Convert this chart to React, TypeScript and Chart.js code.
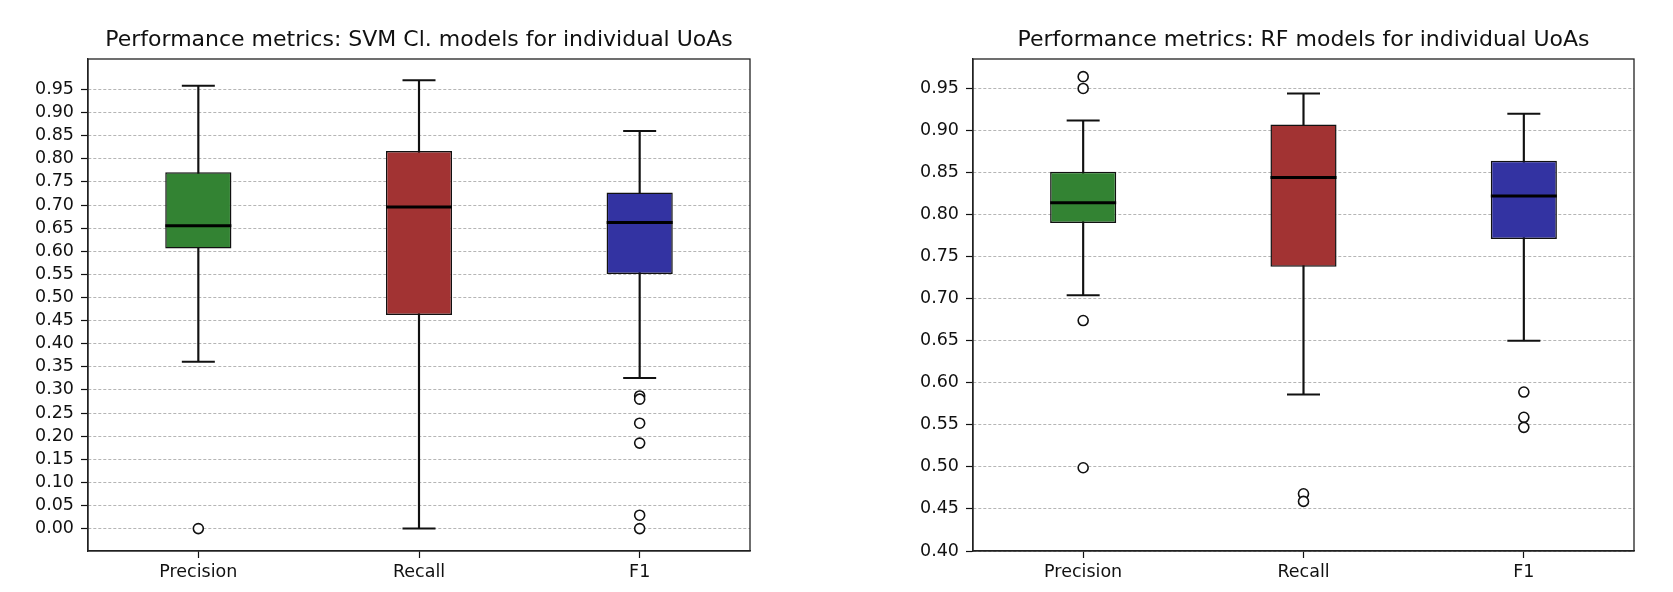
import React, { useEffect, useRef } from 'react';
import { Chart, registerables } from 'chart.js';

Chart.register(...registerables);

// ---------- shared ----------
const categories = ['Precision', 'Recall', 'F1'];
const boxColors = ['rgb(51,131,51)', 'rgb(162,51,51)', 'rgb(51,51,162)'];

// ---------- SVM chart (left) ----------
const svmTitle = 'Performance metrics: SVM Cl. models for individual UoAs';
const svmWhiskerLow = [0.361, 0.0, 0.326];
const svmQ1 = [0.606, 0.462, 0.551];
const svmMedian = [0.655, 0.696, 0.662];
const svmQ3 = [0.771, 0.817, 0.727];
const svmWhiskerHigh = [0.958, 0.97, 0.86];
const svmOutliers = [[0.0], [], [0.287, 0.28, 0.228, 0.185, 0.029, 0.0]];
const svmTicks = [0, 0.05, 0.1, 0.15, 0.2, 0.25, 0.3, 0.35, 0.4, 0.45, 0.5, 0.55, 0.6, 0.65, 0.7, 0.75, 0.8, 0.85, 0.9, 0.95];
const svmRange = [-0.0485, 1.016];

// ---------- RF chart (right) ----------
const rfTitle = 'Performance metrics: RF models for individual UoAs';
const rfWhiskerLow = [0.704, 0.586, 0.65];
const rfQ1 = [0.79, 0.738, 0.771];
const rfMedian = [0.814, 0.844, 0.822];
const rfQ3 = [0.851, 0.907, 0.864];
const rfWhiskerHigh = [0.912, 0.944, 0.92];
const rfOutliers = [[0.964, 0.95, 0.674, 0.499], [0.468, 0.459], [0.589, 0.559, 0.547]];
const rfTicks = [0.4, 0.45, 0.5, 0.55, 0.6, 0.65, 0.7, 0.75, 0.8, 0.85, 0.9, 0.95];
const rfRange = [0.4, 0.985];

const FONT = '"DejaVu Sans", "Liberation Sans", sans-serif';

interface BoxSpec {
  title: string;
  lo: number[];
  q1: number[];
  med: number[];
  q3: number[];
  hi: number[];
  outliers: number[][];
  ticks: number[];
  range: number[];
  canvasWidth: number;
  axisWidth: number;
  padRight: number;
}

function makeConfig(s: BoxSpec): any {
  const framePlugin = {
    id: 'frameAndTitle',
    afterDraw(chart: any) {
      const { ctx, chartArea } = chart;
      ctx.save();
      ctx.strokeStyle = '#222';
      ctx.lineWidth = 1.3;
      ctx.strokeRect(chartArea.left, chartArea.top, chartArea.right - chartArea.left, chartArea.bottom - chartArea.top);
      ctx.fillStyle = '#111';
      ctx.font = '22px ' + FONT;
      ctx.textAlign = 'center';
      ctx.textBaseline = 'alphabetic';
      ctx.fillText(s.title, (chartArea.left + chartArea.right) / 2, 46);
      ctx.restore();
    },
  };

  return {
    type: 'bar',
    data: {
      labels: categories,
      datasets: [
        {
          type: 'bar',
          label: 'box',
          data: categories.map((_, i) => [s.q1[i], s.q3[i]]),
          backgroundColor: boxColors,
          borderColor: '#111',
          borderWidth: 1.5,
          borderSkipped: false,
          barPercentage: 0.3,
          categoryPercentage: 1,
          grouped: false,
          order: 2,
        },
        {
          type: 'bar',
          label: 'whisker',
          data: categories.map((_, i) => [s.lo[i], s.hi[i]]),
          backgroundColor: '#111',
          borderWidth: 0,
          barThickness: 1.5,
          grouped: false,
          order: 3,
        },
        {
          type: 'line',
          label: 'caps',
          data: [
            ...categories.map((c, i) => ({ x: c, y: s.hi[i] })),
            ...categories.map((c, i) => ({ x: c, y: s.lo[i] })),
          ],
          showLine: false,
          pointStyle: 'line',
          pointRadius: 16.5,
          pointBorderColor: '#111',
          pointBorderWidth: 2,
          order: 1,
        },
        {
          type: 'line',
          label: 'median',
          data: categories.map((c, i) => ({ x: c, y: s.med[i] })),
          showLine: false,
          pointStyle: 'line',
          pointRadius: 33,
          pointBorderColor: '#000',
          pointBorderWidth: 3,
          order: 0,
        },
        {
          type: 'line',
          label: 'outliers',
          data: categories.flatMap((c, i) => s.outliers[i].map((v) => ({ x: c, y: v }))),
          showLine: false,
          pointStyle: 'circle',
          pointRadius: 5,
          pointBackgroundColor: '#fff',
          pointBorderColor: '#111',
          pointBorderWidth: 1.6,
          order: 0,
        },
      ],
    },
    options: {
      responsive: false,
      animation: false,
      events: [],
      layout: { padding: { top: 59, right: s.padRight, left: 0, bottom: 0 } },
      plugins: {
        legend: { display: false },
        tooltip: { enabled: false },
        title: { display: false },
      },
      scales: {
        x: {
          type: 'category',
          offset: true,
          grid: {
            display: true,
            drawOnChartArea: false,
            drawTicks: true,
            tickLength: 7,
            tickColor: '#111',
            tickWidth: 1.2,
            offset: false,
          },
          border: { display: true, color: '#222', width: 1.3 },
          ticks: { color: '#111', font: { family: FONT, size: 17.5 }, padding: 4 },
          afterFit: (sc: any) => {
            sc.height = 41;
          },
        },
        y: {
          type: 'linear',
          min: s.range[0],
          max: s.range[1],
          afterBuildTicks: (sc: any) => {
            sc.ticks = s.ticks.map((v) => ({ value: v }));
          },
          grid: {
            color: '#b5b5b5',
            lineWidth: 1,
            drawTicks: true,
            tickLength: 7,
            tickColor: '#111',
            tickWidth: 1.2,
          },
          border: { display: true, color: '#222', width: 1.3, dash: [3, 2] },
          ticks: {
            color: '#111',
            font: { family: FONT, size: 17.5 },
            padding: 7,
            callback: (v: any) => Number(v).toFixed(2),
          },
          afterFit: (sc: any) => {
            sc.width = s.axisWidth;
          },
        },
      },
    },
    plugins: [framePlugin],
  };
}

function BoxChart({ spec, left }: { spec: BoxSpec; left: number }) {
  const ref = useRef<HTMLCanvasElement | null>(null);
  useEffect(() => {
    if (!ref.current) return;
    const chart = new Chart(ref.current, makeConfig(spec));
    return () => chart.destroy();
  }, [spec]);
  return (
    <canvas
      ref={ref}
      width={spec.canvasWidth}
      height={592}
      style={{ position: 'absolute', left, top: 0, width: spec.canvasWidth, height: 592, display: 'block' }}
    />
  );
}

const svmSpec: BoxSpec = {
  title: svmTitle,
  lo: svmWhiskerLow,
  q1: svmQ1,
  med: svmMedian,
  q3: svmQ3,
  hi: svmWhiskerHigh,
  outliers: svmOutliers,
  ticks: svmTicks,
  range: svmRange,
  canvasWidth: 836,
  axisWidth: 88,
  padRight: 86,
};

const rfSpec: BoxSpec = {
  title: rfTitle,
  lo: rfWhiskerLow,
  q1: rfQ1,
  med: rfMedian,
  q3: rfQ3,
  hi: rfWhiskerHigh,
  outliers: rfOutliers,
  ticks: rfTicks,
  range: rfRange,
  canvasWidth: 837,
  axisWidth: 137,
  padRight: 39,
};

export default function App() {
  return (
    <div style={{ position: 'absolute', left: 0, top: 0, width: 1673, height: 592, background: '#fff', overflow: 'hidden' }}>
      <BoxChart spec={svmSpec} left={0} />
      <BoxChart spec={rfSpec} left={836} />
    </div>
  );
}
